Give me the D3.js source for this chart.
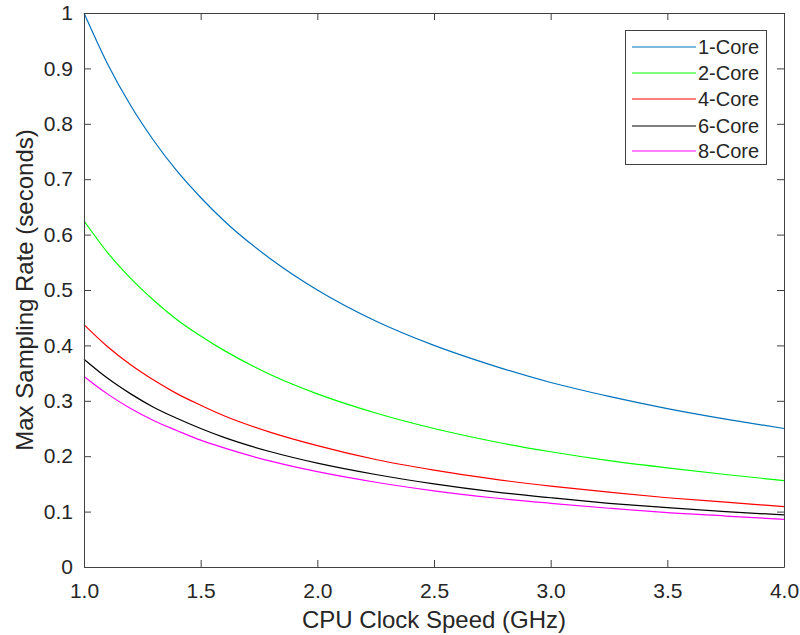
<!DOCTYPE html>
<html>
<head>
<meta charset="utf-8">
<script src="https://cdn.jsdelivr.net/npm/d3@7"></script>
<style>
  body { margin: 0; background: #fff; }
  text { font-family: "Liberation Sans", Arial, sans-serif; fill: #262626; }
</style>
</head>
<body>
<svg id="chart" width="800" height="635"></svg>
<script>
// Data
const clockSpeeds = [1.0, 1.1, 1.2, 1.3, 1.4, 1.5, 1.6, 1.8, 2.0, 2.25, 2.5, 2.75, 3.0, 3.25, 3.5, 3.75, 4.0];
const core1 = [1.0, 0.909, 0.833, 0.769, 0.714, 0.667, 0.625, 0.556, 0.5, 0.444, 0.4, 0.364, 0.333, 0.308, 0.286, 0.267, 0.25];
const core2 = [0.625, 0.568, 0.521, 0.481, 0.446, 0.417, 0.391, 0.347, 0.3125, 0.278, 0.25, 0.227, 0.208, 0.192, 0.179, 0.167, 0.156];
const core4 = [0.4375, 0.398, 0.365, 0.337, 0.3125, 0.292, 0.273, 0.243, 0.219, 0.194, 0.175, 0.159, 0.146, 0.135, 0.125, 0.117, 0.109];
const core6 = [0.375, 0.341, 0.3125, 0.288, 0.268, 0.25, 0.234, 0.208, 0.1875, 0.167, 0.15, 0.136, 0.125, 0.115, 0.107, 0.1, 0.094];
const core8 = [0.344, 0.3125, 0.286, 0.264, 0.246, 0.229, 0.215, 0.191, 0.172, 0.153, 0.1375, 0.125, 0.115, 0.106, 0.098, 0.092, 0.086];
const seriesNames = ["1-Core", "2-Core", "4-Core", "6-Core", "8-Core"];
const seriesColors = ["#0072BD", "#00FF00", "#FF0000", "#000000", "#FF00FF"];
const xTicks = [1.0, 1.5, 2.0, 2.5, 3.0, 3.5, 4.0];
const yTicks = [0, 0.1, 0.2, 0.3, 0.4, 0.5, 0.6, 0.7, 0.8, 0.9, 1];

const seriesValues = [core1, core2, core4, core6, core8];

const svg = d3.select("#chart");
const L = 84, R = 784, T = 13, B = 567;
const axisColor = "#404040";
const FONT = "'Liberation Sans', Arial, sans-serif";

const x = d3.scaleLinear().domain([1, 4]).range([L, R]);
const y = d3.scaleLinear().domain([0, 1]).range([B, T]);

// Lines
const line = d3.line()
  .x(d => x(d[0]))
  .y(d => y(d[1]))
  .curve(d3.curveMonotoneX);

seriesValues.forEach((vals, i) => {
  const pts = clockSpeeds.map((c, j) => [c, vals[j]]);
  svg.append("path")
    .attr("d", line(pts))
    .attr("fill", "none")
    .attr("stroke", seriesColors[i])
    .attr("stroke-width", 1.2);
});

// Axes
const tickLen = 7;
const xAxisB = d3.axisBottom(x).tickValues(xTicks).tickFormat(d3.format(".1f")).tickSizeInner(-tickLen).tickSizeOuter(0).tickPadding(16);
const yAxisL = d3.axisLeft(y).tickValues(yTicks).tickFormat(d => d === 0 ? "0" : d === 1 ? "1" : d3.format(".1f")(d)).tickSizeInner(-tickLen).tickSizeOuter(0).tickPadding(11);
const xAxisT = d3.axisTop(x).tickValues(xTicks).tickFormat("").tickSizeInner(-tickLen).tickSizeOuter(0);
const yAxisR = d3.axisRight(y).tickValues(yTicks).tickFormat("").tickSizeInner(-tickLen).tickSizeOuter(0);

function styleAxis(g) {
  g.selectAll("path").attr("stroke", axisColor).attr("stroke-width", 1);
  g.selectAll("line").attr("stroke", axisColor).attr("stroke-width", 1);
  g.selectAll("text").attr("fill", "#262626").style("font-size", "21px").style("font-family", FONT);
}

svg.append("g").attr("transform", `translate(0,${B})`).call(xAxisB).call(styleAxis);
svg.append("g").attr("transform", `translate(${L},0)`).call(yAxisL).call(styleAxis);
svg.append("g").attr("transform", `translate(0,${T})`).call(xAxisT).call(styleAxis);
svg.append("g").attr("transform", `translate(${R},0)`).call(yAxisR).call(styleAxis);

// Axis labels
svg.append("text")
  .attr("x", (L + R) / 2)
  .attr("y", 628)
  .attr("text-anchor", "middle")
  .style("font-size", "24px")
  .text("CPU Clock Speed (GHz)");

svg.append("text")
  .attr("transform", `translate(33,${(T + B) / 2}) rotate(-90)`)
  .attr("text-anchor", "middle")
  .style("font-size", "24px")
  .text("Max Sampling Rate (seconds)");

// Legend
const lg = svg.append("g");
lg.append("rect")
  .attr("x", 625.5).attr("y", 30.5)
  .attr("width", 141).attr("height", 134)
  .attr("fill", "#fff")
  .attr("stroke", axisColor)
  .attr("stroke-width", 1);
const rowY = [47, 73, 99, 126, 151];
seriesNames.forEach((name, i) => {
  lg.append("line")
    .attr("x1", 632).attr("x2", 696)
    .attr("y1", rowY[i]).attr("y2", rowY[i])
    .attr("stroke", seriesColors[i]).attr("stroke-width", 1.2);
  lg.append("text")
    .attr("x", 698).attr("y", rowY[i])
    .attr("dy", "0.35em")
    .style("font-size", "20px")
    .text(name);
});
</script>
</body>
</html>
